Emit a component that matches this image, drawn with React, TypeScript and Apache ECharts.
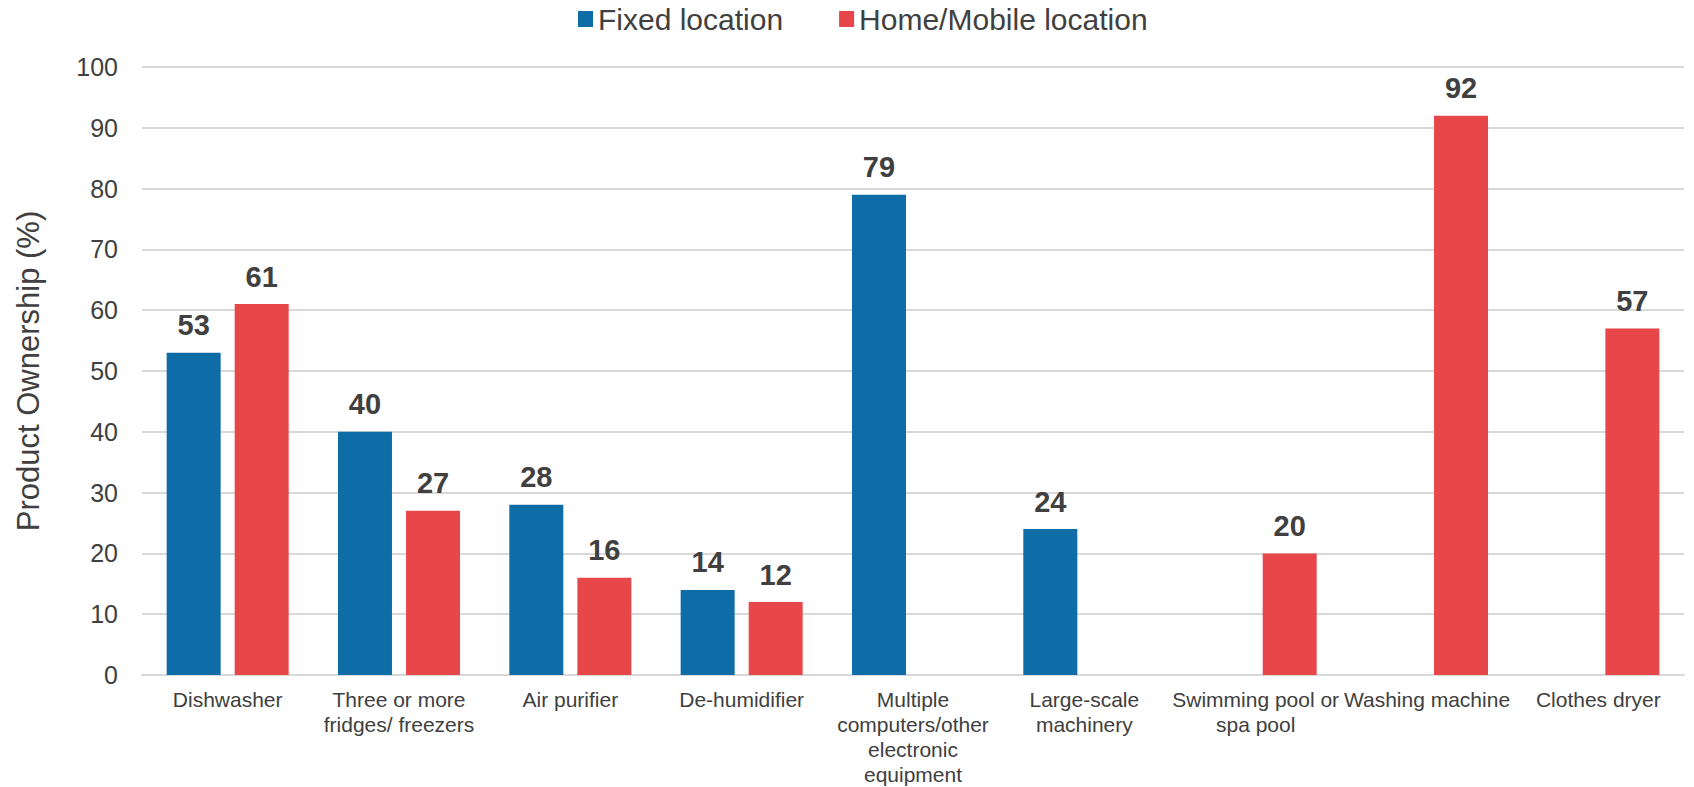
import React, { useEffect, useRef } from "react";
import * as echarts from "echarts";

const categories = [
  "Dishwasher",
  "Three or more\nfridges/ freezers",
  "Air purifier",
  "De-humidifier",
  "Multiple\ncomputers/other\nelectronic\nequipment",
  "Large-scale\nmachinery",
  "Swimming pool or\nspa pool",
  "Washing machine",
  "Clothes dryer",
];
const fixedLocation: (number | null)[] = [53, 40, 28, 14, 79, 24, null, null, null];
const homeMobileLocation: (number | null)[] = [61, 27, 16, 12, null, null, 20, 92, 57];
const yTicks = [0, 10, 20, 30, 40, 50, 60, 70, 80, 90, 100];

const FONT = "'Liberation Sans', Arial, sans-serif";
const BLUE = "#0E6CA6";
const RED = "#E8474A";
const TEXT = "#404040";

export default function App() {
  const ref = useRef<HTMLDivElement>(null);
  useEffect(() => {
    if (!ref.current) return;
    const chart = echarts.init(ref.current, undefined, { renderer: "svg" });
    const label = {
      show: true,
      position: "top" as const,
      distance: 13,
      fontFamily: FONT,
      fontWeight: "bold" as const,
      fontSize: 29,
      color: TEXT,
    };
    chart.setOption({
      animation: false,
      textStyle: { fontFamily: FONT },
      legend: {
        top: -1,
        left: 573,
        itemWidth: 15,
        itemHeight: 16,
        itemGap: 56,
        icon: "rect",
        textStyle: { fontFamily: FONT, fontSize: 30, color: TEXT },
        data: ["Fixed location", "Home/Mobile location"],
      },
      grid: { left: 142, right: 10, top: 67, bottom: 112 },
      xAxis: {
        type: "category",
        data: categories,
        axisLine: { lineStyle: { color: "#d9d9d9", width: 2 } },
        axisTick: { show: false },
        axisLabel: {
          interval: 0,
          hideOverlap: false,
          margin: 12,
          fontFamily: FONT,
          fontSize: 21,
          lineHeight: 25,
          color: TEXT,
        },
      },
      yAxis: {
        type: "value",
        min: yTicks[0],
        max: yTicks[yTicks.length - 1],
        interval: 10,
        name: "Product Ownership (%)",
        nameLocation: "middle",
        nameGap: 98,
        nameTextStyle: { fontFamily: FONT, fontSize: 31, color: TEXT },
        axisLine: { show: false },
        axisTick: { show: false },
        axisLabel: { fontFamily: FONT, fontSize: 25, color: TEXT, margin: 24 },
        splitLine: { lineStyle: { color: "#d9d9d9", width: 2 } },
      },
      series: [
        {
          name: "Fixed location",
          type: "bar",
          data: fixedLocation,
          barWidth: 54,
          barGap: "26%",
          itemStyle: { color: BLUE },
          label,
        },
        {
          name: "Home/Mobile location",
          type: "bar",
          data: homeMobileLocation,
          barWidth: 54,
          barGap: "26%",
          itemStyle: { color: RED },
          label,
        },
      ],
    });
    return () => chart.dispose();
  }, []);
  return (
    <div
      ref={ref}
      style={{ position: "fixed", left: 0, top: 0, width: 1694, height: 787, background: "#fff" }}
    />
  );
}
